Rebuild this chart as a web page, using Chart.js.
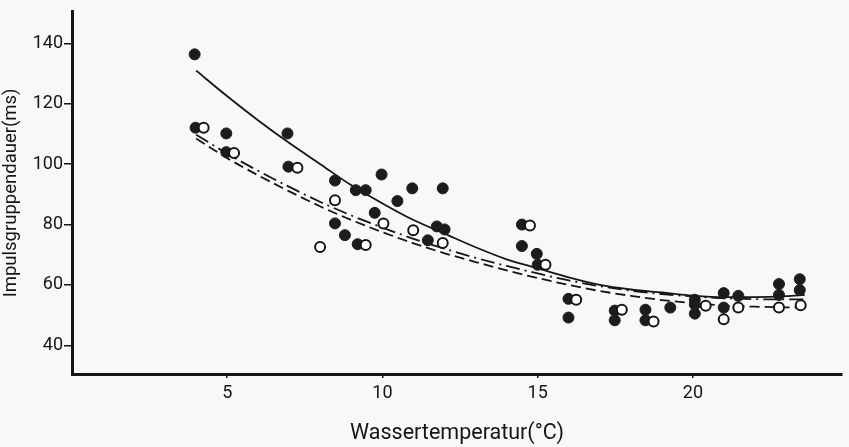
<!DOCTYPE html>
<html>
<head>
<meta charset="utf-8">
<script src="https://cdn.jsdelivr.net/npm/chart.js@4.4.2/dist/chart.umd.min.js"></script>
<style>
  body { margin: 0; background: #f8f8f6; }
  #wrap { width: 849px; height: 447px; }
</style>
</head>
<body>
<div id="wrap"><canvas id="chart" width="849" height="447"></canvas></div>
<script>
// measured points, filled circles
const filledX = [3.95, 3.98, 4.97, 4.97, 6.94, 6.97, 8.47, 8.47, 8.79, 9.14, 9.46, 9.2, 9.75, 9.97, 10.48, 10.96, 11.94, 11.75, 12.0, 11.46,
  14.49, 14.49, 14.97, 15.0, 15.99, 15.99, 17.48, 17.48, 18.47, 18.47, 19.27, 20.06, 20.06, 20.06, 20.99, 20.99, 21.46, 22.77, 22.77, 23.44, 23.44];
const filledY = [136.4, 112.1, 110.2, 104.0, 110.2, 99.2, 94.6, 80.4, 76.5, 91.4, 91.4, 73.5, 83.9, 96.6, 87.8, 92.0, 92.0, 79.4, 78.4, 74.8,
  80.0, 72.9, 70.3, 66.7, 55.4, 49.2, 51.5, 48.3, 51.8, 48.3, 52.5, 55.1, 53.5, 50.5, 57.3, 52.5, 56.4, 60.3, 56.7, 61.9, 58.3];

// open circles
const openX = [4.24, 5.22, 7.26, 8.47, 7.99, 9.46, 10.03, 10.99, 11.94, 14.75, 15.25, 16.24, 17.71, 18.73, 20.41, 20.99, 21.46, 22.77, 23.47];
const openY = [112.1, 103.7, 98.8, 88.1, 72.6, 73.2, 80.4, 78.1, 73.9, 79.7, 66.7, 55.1, 51.8, 47.9, 53.1, 48.6, 52.5, 52.5, 53.3];

// fitted curves
const curveX = [4, 5, 6, 7, 8, 9, 10, 11, 12, 13, 14, 15, 16, 17, 18, 19, 20, 21, 22, 23, 23.6];
const solidY = [131, 122.5, 114.5, 107, 100, 93, 87, 81.5, 77, 72.5, 68.5, 65.5, 62.5, 60, 58.5, 57.5, 56.5, 56, 56, 56.3, 56.7];
const dashDotY = [109.8, 103.5, 97.8, 92.5, 87.5, 83, 79, 75.3, 72, 69, 66.3, 63.8, 61.5, 59.6, 58.1, 57, 56.2, 55.6, 55.3, 55.2, 55.2];
const dashedY = [108.5, 102, 96.3, 91, 86, 81.5, 77.5, 73.8, 70.5, 67.6, 64.8, 62.3, 60, 58, 56.4, 55, 54, 53.2, 52.8, 52.6, 52.6];

const xTicks = [5, 10, 15, 20];
const yTicks = [40, 60, 80, 100, 120, 140];

const ink = '#151515';
const family = 'Roboto, "DejaVu Sans", sans-serif';
const font = { family: family, size: 18 };

const pts = (xs, ys) => xs.map((x, i) => ({ x: x, y: ys[i] }));

const lineDs = (ys, dash) => ({
  type: 'line',
  data: pts(curveX, ys),
  borderColor: ink,
  borderWidth: 1.8,
  borderDash: dash,
  pointRadius: 0,
  cubicInterpolationMode: 'monotone',
  fill: false,
  order: 3
});

new Chart(document.getElementById('chart'), {
  type: 'scatter',
  data: {
    datasets: [
      {
        data: pts(openX, openY),
        backgroundColor: '#ffffff',
        borderColor: ink,
        borderWidth: 2,
        pointRadius: 5,
        order: 1
      },
      {
        data: pts(filledX, filledY),
        backgroundColor: '#1c1c1c',
        borderColor: '#1c1c1c',
        borderWidth: 1,
        pointRadius: 5.5,
        order: 2
      },
      lineDs(solidY, []),
      lineDs(dashDotY, [14, 5, 2, 5]),
      lineDs(dashedY, [10, 5])
    ]
  },
  options: {
    responsive: false,
    animation: false,
    layout: { padding: { top: 4, right: 0, left: 0, bottom: 0 } },
    plugins: { legend: { display: false }, tooltip: { enabled: false } },
    scales: {
      x: {
        type: 'linear',
        min: 0,
        max: 24.8,
        afterBuildTicks: (s) => { s.ticks = xTicks.map(v => ({ value: v })); },
        afterFit: (s) => { s.height = 73; },
        grid: { drawOnChartArea: false, drawTicks: true, tickLength: 4, color: ink, lineWidth: 1.5 },
        border: { display: true, color: ink, width: 3 },
        ticks: { color: ink, font: font, padding: 5, maxRotation: 0 },
        title: { display: true, text: 'Wassertemperatur(°C)', color: ink, font: { family: family, size: 21.5 }, padding: { top: 6, bottom: 0 } }
      },
      y: {
        min: 30.5,
        max: 150.5,
        afterBuildTicks: (s) => { s.ticks = yTicks.map(v => ({ value: v })); },
        afterFit: (s) => { s.width = 72; },
        grid: { drawOnChartArea: false, drawTicks: true, tickLength: 8, color: ink, lineWidth: 1.5 },
        border: { display: true, color: ink, width: 3 },
        ticks: { color: ink, font: font, padding: 1 },
        title: { display: true, text: 'Impulsgruppendauer(ms)', color: ink, font: { family: family, size: 18.5 }, padding: { top: 0, bottom: 3 } }
      }
    }
  }
});
</script>
</body>
</html>
